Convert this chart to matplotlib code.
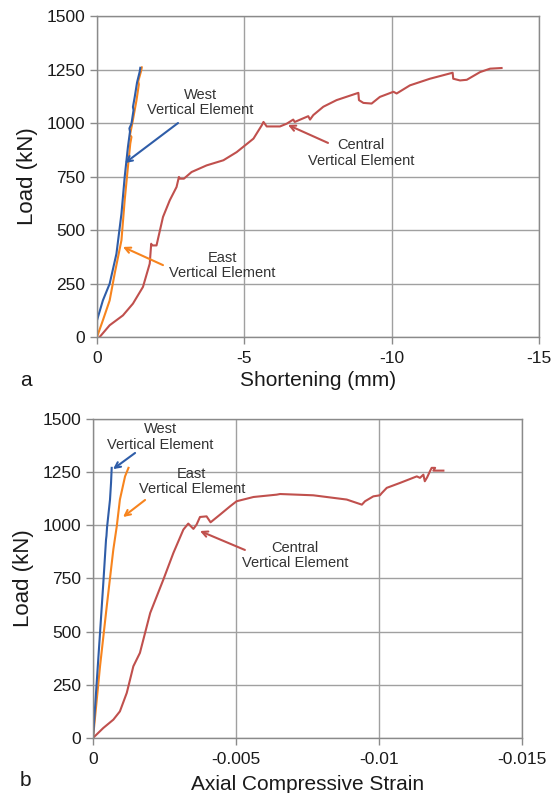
import matplotlib
matplotlib.use("Agg")
import matplotlib.pyplot as plt

plt.rcParams['font.family'] = ['Liberation Sans', 'DejaVu Sans']
plt.rcParams['axes.unicode_minus'] = False

# (a) load vs shortening (mm)
west_a_x = [0, -0.2, -0.43, -0.66, -0.83, -0.94, -1.05, -1.12, -1.10, -1.17, -1.24, -1.22, -1.28, -1.36, -1.45, -1.47]
west_a_y = [78, 171, 249, 389, 576, 748, 888, 960, 975, 997, 1060, 1075, 1121, 1190, 1240, 1258]

east_a_x = [0, -0.2, -0.43, -0.6, -0.83, -0.94, -1.05, -1.13, -1.17, -1.12, -1.20, -1.34, -1.42, -1.40, -1.50, -1.52]
east_a_y = [0, 78, 171, 296, 452, 639, 795, 904, 935, 945, 1000, 1106, 1180, 1195, 1245, 1260]

central_a_x = [-0.09, -0.43, -0.88, -1.22, -1.56, -1.79, -1.84, -1.86, -2.02, -2.24, -2.47, -2.70, -2.78, -2.82,
               -2.95, -3.21, -3.72, -4.29, -4.74, -5.31, -5.59, -5.65, -5.76, -6.21, -6.44, -6.66, -6.71, -7.17,
               -7.23, -7.34, -7.68, -8.13, -8.87, -8.89, -9.04, -9.32, -9.60, -10.06, -10.17, -10.62, -11.30,
               -12.07, -12.09, -12.32, -12.55, -13.00, -13.34, -13.73]
central_a_y = [0, 55, 101, 156, 234, 343, 436, 428, 428, 561, 639, 701, 748, 740,
               740, 771, 802, 826, 864, 927, 989, 1005, 984, 984, 997, 1016, 1005, 1032,
               1016, 1037, 1076, 1107, 1141, 1107, 1094, 1091, 1122, 1146, 1138, 1176, 1207,
               1235, 1207, 1199, 1202, 1238, 1254, 1257]

# (b) load vs axial compressive strain
west_b_x = [0, -0.000128, -0.000245, -0.00036, -0.000455, -0.00047, -0.00049, -0.000594, -0.00063, -0.000653]
west_b_y = [0, 259, 494, 729, 933, 950, 990, 1121, 1200, 1270]

east_b_x = [0, -0.000245, -0.00048, -0.00071, -0.00083, -0.00094, -0.00112, -0.00124]
east_b_y = [0, 337, 619, 886, 995, 1121, 1230, 1270]

central_b_x = [0, -0.00036, -0.00071, -0.00094, -0.00118, -0.00141, -0.00164, -0.0020, -0.00246, -0.00281,
               -0.00316, -0.00333, -0.00351, -0.00362, -0.00374, -0.00397, -0.00411, -0.00444, -0.00479,
               -0.00502, -0.00561, -0.00642, -0.00654, -0.0077, -0.00887, -0.0094, -0.00951, -0.0098,
               -0.01003, -0.0101, -0.01027, -0.01073, -0.01132, -0.01143, -0.01155, -0.0116, -0.01168,
               -0.01178, -0.01184, -0.01196, -0.0119, -0.01225]
central_b_y = [0, 47, 86, 125, 212, 337, 400, 588, 745, 870,
               980, 1008, 983, 1003, 1039, 1042, 1014, 1050, 1089,
               1113, 1133, 1144, 1147, 1141, 1121, 1097, 1113, 1136,
               1141, 1152, 1176, 1199, 1230, 1223, 1238, 1207, 1225,
               1254, 1270, 1270, 1257, 1257]

y_ticks = [0, 250, 500, 750, 1000, 1250, 1500]
a_ticks = [0, -5, -10, -15]
b_ticks = [0, -0.005, -0.01, -0.015]
b_tick_labels = ['0', '-0.005', '-0.01', '-0.015']

c_west = '#2F5DA8'
c_east = '#F7841E'
c_central = '#C0504D'

fig = plt.figure(figsize=(5.59, 7.93), dpi=100)
ax1 = fig.add_axes([0.1735, 0.575, 0.7907, 0.4048])
ax2 = fig.add_axes([0.1664, 0.0694, 0.7675, 0.4023])


def style(ax):
    ax.set_ylim(0, 1500)
    ax.set_yticks(y_ticks)
    ax.grid(True, color='#a0a0a0', linewidth=1.0)
    ax.set_axisbelow(True)
    for s in ax.spines.values():
        s.set_color('#8a8a8a')
        s.set_linewidth(1.0)
    ax.tick_params(axis='both', labelsize=12.5, colors='#8a8a8a', labelcolor='#1a1a1a',
                   length=5, width=1.0, direction='out')
    ax.tick_params(axis='x', pad=5)
    ax.set_ylabel('Load (kN)', fontsize=16, color='#1a1a1a', labelpad=6)


def label(ax, text, pos, tail, head, color):
    ax.text(pos[0], pos[1], text, fontsize=10.5, color='#333333', ha='center', va='center',
            linespacing=1.1)
    ax.annotate('', xy=head, xytext=tail,
                arrowprops=dict(arrowstyle='->', color=color, lw=1.5, shrinkA=0, shrinkB=0))


lw = 1.5
ax1.plot(central_a_x, central_a_y, color=c_central, lw=lw)
ax1.plot(east_a_x, east_a_y, color=c_east, lw=lw)
ax1.plot(west_a_x, west_a_y, color=c_west, lw=lw)
ax1.set_xlim(0, -15)
ax1.set_xticks(a_ticks)
ax1.set_xlabel('Shortening (mm)', fontsize=15, color='#1a1a1a', labelpad=4)
style(ax1)

label(ax1, 'West\nVertical Element', (-3.5, 1095), (-2.75, 1000), (-0.95, 813), c_west)
label(ax1, 'East\nVertical Element', (-4.25, 336), (-2.24, 336), (-0.88, 421), c_east)
label(ax1, 'Central\nVertical Element', (-8.95, 860), (-7.84, 907), (-6.48, 991), c_central)

ax2.plot(central_b_x, central_b_y, color=c_central, lw=lw)
ax2.plot(east_b_x, east_b_y, color=c_east, lw=lw)
ax2.plot(west_b_x, west_b_y, color=c_west, lw=lw)
ax2.set_xlim(0, -0.015)
ax2.set_xticks(b_ticks)
ax2.set_xticklabels(b_tick_labels)
ax2.set_xlabel('Axial Compressive Strain', fontsize=15, color='#1a1a1a', labelpad=6)
style(ax2)

label(ax2, 'West\nVertical Element', (-0.00235, 1415), (-0.00147, 1340), (-0.0007, 1264), c_west)
label(ax2, 'East\nVertical Element', (-0.00345, 1205), (-0.00182, 1119), (-0.00105, 1039), c_east)
label(ax2, 'Central\nVertical Element', (-0.00707, 860), (-0.00531, 884), (-0.00374, 973), c_central)

fig.text(20 / 559, 1 - 380 / 793, 'a', fontsize=15, color='#1a1a1a', ha='left', va='center')
fig.text(20 / 559, 1 - 780 / 793, 'b', fontsize=15, color='#1a1a1a', ha='left', va='center')

fig.savefig('out.png', dpi=100, facecolor='white')
